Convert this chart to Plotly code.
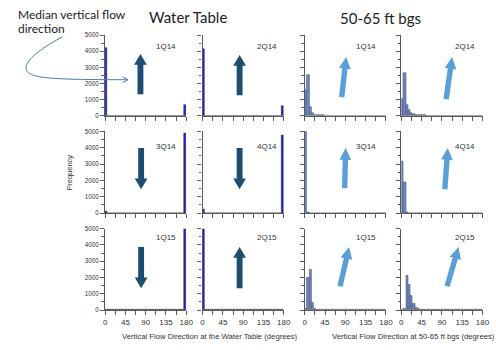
import math
import plotly.graph_objects as go

W, H = 496, 350

# ---------------- data ----------------
quarters = ["1Q14", "2Q14", "3Q14", "4Q14", "1Q15", "2Q15"]
bin_width = 5
bin_centers = [bin_width / 2 + bin_width * i for i in range(36)]  # 0-180 deg, 5-deg bins

# Water-table histograms (counts per 5-degree bin, 36 bins)
wt_1Q14 = [4220] + [0] * 34 + [650]
wt_2Q14 = [4150] + [0] * 34 + [600]
wt_3Q14 = [100] + [0] * 34 + [4870]
wt_4Q14 = [210] + [0] * 34 + [4780]
wt_1Q15 = [0] + [0] * 34 + [5200]
wt_2Q15 = [5200] + [0] * 34 + [0]

# 50-65 ft bgs histograms
dp_1Q14 = [1600, 2540, 550, 190, 60, 30, 20, 15, 10, 8, 5, 3] + [0] * 24
dp_2Q14 = [1010, 2620, 690, 320, 170, 90, 45, 30, 20, 15, 10, 6, 3] + [0] * 23
dp_3Q14 = [4980, 30, 8] + [0] * 33
dp_4Q14 = [3150, 1880, 25, 8] + [0] * 32
dp_1Q15 = [90, 1970, 2490, 450, 70, 25, 10] + [0] * 29
dp_2Q15 = [30, 70, 2130, 1580, 900, 400, 150, 70, 35, 15, 8] + [0] * 25

# panel grid: rows of (water-table col1, water-table col2, deep col3, deep col4)
panels = [
    [("1Q14", wt_1Q14, "wt"), ("2Q14", wt_2Q14, "wt"), ("1Q14", dp_1Q14, "dp"), ("2Q14", dp_2Q14, "dp")],
    [("3Q14", wt_3Q14, "wt"), ("4Q14", wt_4Q14, "wt"), ("3Q14", dp_3Q14, "dp"), ("4Q14", dp_4Q14, "dp")],
    [("1Q15", wt_1Q15, "wt"), ("2Q15", wt_2Q15, "wt"), ("1Q15", dp_1Q15, "dp"), ("2Q15", dp_2Q15, "dp")],
]

x_ticks = [0, 45, 90, 135, 180]
y_ticks = [0, 1000, 2000, 3000, 4000, 5000]

# ---------------- layout helpers ----------------
col_x = [(105, 187.7), (204.3, 287.0), (308.3, 391.0), (406.7, 489.4)]
row_y = [(31.7, 114.0), (130.0, 213.3), (229.3, 312.3)]


def px(x, y):
    return x / W, 1 - y / H


FONT = "Liberation Sans, Arial, sans-serif"
TFONT = "Lato, Open Sans, sans-serif"
AX = "#5a5a5a"

fig = go.Figure()
layout = dict(
    width=W, height=H, margin=dict(l=0, r=0, t=0, b=0),
    paper_bgcolor="white", plot_bgcolor="white", showlegend=False,
    bargap=0,
)
annotations = []
shapes = []

colors = {"wt": ("#1c1cdc", "#3a3a3a"), "dp": ("#6787cc", "#5a5a66")}

for r, row in enumerate(panels):
    for c, (lab, counts, kind) in enumerate(row):
        k = r * 4 + c + 1
        xa = "x" if k == 1 else f"x{k}"
        ya = "y" if k == 1 else f"y{k}"
        fill, edge = colors[kind]
        fig.add_trace(go.Bar(
            x=bin_centers, y=counts, width=bin_width,
            marker=dict(color=fill, line=dict(color=edge, width=0.6)),
            xaxis=xa, yaxis=ya, hoverinfo="skip",
        ))
        x0, x1 = col_x[c]
        y0, y1 = row_y[r]
        layout["xaxis" if k == 1 else f"xaxis{k}"] = dict(
            domain=[x0 / W, x1 / W], anchor=ya, range=[0, 180],
            tickvals=x_ticks, ticks="outside", ticklen=4, tickwidth=1, tickcolor=AX,
            minor=dict(dtick=22.5, tick0=0, ticks="outside", ticklen=4, tickwidth=1, tickcolor=AX),
            showline=True, linecolor=AX, linewidth=1.3, showgrid=False, zeroline=False,
            showticklabels=(r == 2), tickfont=dict(family=FONT, size=8, color="#333"),
            fixedrange=True,
        )
        layout["yaxis" if k == 1 else f"yaxis{k}"] = dict(
            domain=[1 - y1 / H, 1 - y0 / H], anchor=xa, range=[0, 5000],
            tickvals=y_ticks, ticks="outside", ticklen=4, tickwidth=1, tickcolor=AX,
            minor=dict(dtick=500, tick0=0, ticks="outside", ticklen=2.5, tickwidth=1, tickcolor=AX),
            showline=True, linecolor=AX, linewidth=1.3, showgrid=False, zeroline=False,
            showticklabels=(c == 0), tickfont=dict(family=FONT, size=6.3, color="#333"),
            fixedrange=True,
        )

# panel labels (quarter)
label_pos_x = [167.5, 269.5, 371, 472]
label_pos_y = [43.5, 145.5, 238.5]
for r, row in enumerate(panels):
    for c, (lab, counts, kind) in enumerate(row):
        xp, yp = px(label_pos_x[c], label_pos_y[r])
        annotations.append(dict(x=xp, y=yp, xref="paper", yref="paper", text=lab, showarrow=False,
                                font=dict(family=FONT, size=8, color="#333"), xanchor="center", yanchor="middle"))

# titles and axis labels
def text(x, y, s, size, family=FONT, color="#333", angle=0, xanchor="center"):
    xp, yp = px(x, y)
    annotations.append(dict(x=xp, y=yp, xref="paper", yref="paper", text=s, showarrow=False, textangle=angle,
                            font=dict(family=family, size=size, color=color), xanchor=xanchor, yanchor="middle"))

text(189, 13.5, "Water Table", 15, TFONT, "#222")
text(386, 14, "50-65 ft bgs", 15, TFONT, "#222")
text(14, 11, "Median vertical flow", 12, TFONT, "#222", xanchor="left")
text(14, 25, "direction", 12, TFONT, "#222", xanchor="left")
text(68.5, 171.5, "Frequency", 7.5, FONT, "#333", angle=-90)
text(212, 339, "Vertical Flow Direction at the Water Table (degrees)", 7.7)
text(419.5, 339, "Vertical Flow Direction at 50-65 ft bgs (degrees)", 7.7)


# ---------------- arrows (decorations) ----------------
def arrow_path(x0, y0, x1, y1, sw, hw, hl):
    dx, dy = x1 - x0, y1 - y0
    L = math.hypot(dx, dy)
    ux, uy = dx / L, dy / L
    nx, ny = -uy, ux
    bx, by = x1 - ux * hl, y1 - uy * hl
    pts = [(x0 + nx * sw / 2, y0 + ny * sw / 2), (bx + nx * sw / 2, by + ny * sw / 2),
           (bx + nx * hw / 2, by + ny * hw / 2), (x1, y1),
           (bx - nx * hw / 2, by - ny * hw / 2), (bx - nx * sw / 2, by - ny * sw / 2),
           (x0 - nx * sw / 2, y0 - ny * sw / 2)]
    return "M " + " L ".join(f"{x / W:.5f},{1 - y / H:.5f}" for x, y in pts) + " Z"


NAVY = "#1d4d70"
LIGHT = "#5b9fd8"
navy_arrows = [
    (141, 92, 141, 51), (242, 93, 242, 52),
    (141.7, 147, 141.7, 189), (242, 147, 242, 189),
    (141.7, 248, 141.7, 290), (242, 290, 242, 248),
]
light_arrows = [
    (346, 95, 350.5, 54), (452.3, 97, 458.5, 54),
    (349, 188, 350, 147), (451, 189, 454, 147),
    (344.3, 288, 353.5, 248), (453.3, 288, 465, 248),
]
for a in navy_arrows:
    shapes.append(dict(type="path", xref="paper", yref="paper", path=arrow_path(*a, 6, 13, 11),
                       fillcolor=NAVY, line=dict(width=0)))
for a in light_arrows:
    shapes.append(dict(type="path", xref="paper", yref="paper", path=arrow_path(*a, 5.5, 12, 12),
                       fillcolor=LIGHT, line=dict(width=0)))

# curved connector from the "direction" text to the first arrow
def pp(x, y):
    return f"{x / W:.5f},{1 - y / H:.5f}"

curve = (f"M {pp(61.5, 33.5)} C {pp(40, 45)} {pp(15, 62)} {pp(28, 71)} "
         f"C {pp(38, 77)} {pp(70, 77)} {pp(128, 77.3)}")
shapes.append(dict(type="path", xref="paper", yref="paper", path=curve,
                   line=dict(color="#4a7db0", width=1)))
shapes.append(dict(type="path", xref="paper", yref="paper",
                   path=f"M {pp(123, 74.3)} L {pp(128.3, 77.3)} L {pp(123, 80.2)}",
                   line=dict(color="#4a7db0", width=1)))

layout["annotations"] = annotations
layout["shapes"] = shapes
fig.update_layout(**layout)
fig.write_html("out.html", config={"displayModeBar": False},
               post_script="document.body.style.margin='0';document.body.style.overflow='hidden';")
